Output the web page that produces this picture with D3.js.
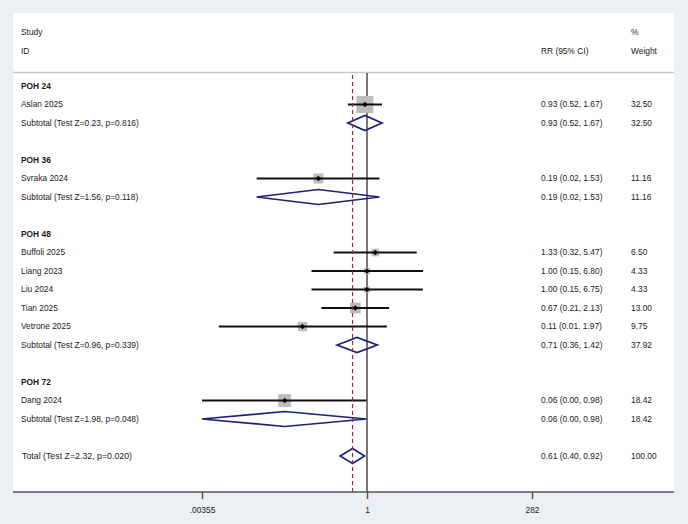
<!DOCTYPE html>
<html>
<head>
<meta charset="utf-8">
<script src="https://cdn.jsdelivr.net/npm/d3@7"></script>
<style>
html,body{margin:0;padding:0;background:#eaf0f3;}
svg{display:block;}
text{font-family:"Liberation Sans",Arial,sans-serif;font-size:8.4px;fill:#1a1a1a;}
</style>
</head>
<body>
<svg id="chart" width="688" height="524"></svg>
<script>
// ---- data ----
const groups = ["POH 24", "POH 36", "POH 48", "POH 72"];
const studies = ["Aslan 2025", "Svraka 2024", "Buffoli 2025", "Liang 2023", "Liu 2024", "Tian 2025", "Vetrone 2025", "Dang 2024"];
const studyGroup = [0, 1, 2, 2, 2, 2, 2, 3];
const studyRR = [0.93, 0.19, 1.33, 1.00, 1.00, 0.67, 0.11, 0.06];
const studyLo = [0.52, 0.023, 0.32, 0.15, 0.15, 0.21, 0.0063, 0.00355];
const studyHi = [1.67, 1.53, 5.47, 6.80, 6.75, 2.13, 1.97, 0.98];
const studyWeight = [32.50, 11.16, 6.50, 4.33, 4.33, 13.00, 9.75, 18.42];
const subRR = [0.93, 0.19, 0.71, 0.06];
const subLo = [0.52, 0.023, 0.36, 0.00355];
const subHi = [1.67, 1.53, 1.42, 0.98];
const subWeight = [32.50, 11.16, 37.92, 18.42];
const subZ = ["0.23", "1.56", "0.96", "1.98"];
const subP = ["0.816", "0.118", "0.339", "0.048"];
const totalRR = 0.61, totalLo = 0.40, totalHi = 0.92, totalWeight = 100.00;
const totalZ = "2.32", totalP = "0.020";
const tickValues = [0.00355, 1, 282];
const tickLabels = [".00355", "1", "282"];

// ---- build rows ----
const rows = [];
let r = 0;
groups.forEach((g, gi) => {
  rows.push({type: "group", label: g, i: r++});
  studies.forEach((s, si) => {
    if (studyGroup[si] === gi) rows.push({type: "study", label: s, rr: studyRR[si], lo: studyLo[si], hi: studyHi[si], w: studyWeight[si], i: r++});
  });
  rows.push({type: "sub", label: `Subtotal (Test Z=${subZ[gi]}, p=${subP[gi]})`, rr: subRR[gi], lo: subLo[gi], hi: subHi[gi], w: subWeight[gi], i: r++});
  r++;
});
rows.push({type: "total", label: `Total (Test Z=${totalZ}, p=${totalP})`, rr: totalRR, lo: totalLo, hi: totalHi, w: totalWeight, i: r});

const svg = d3.select("#chart");
const panel = {x0: 13, x1: 674, y0: 13, y1: 492};
const x = d3.scaleLog().domain([0.00355, 1 / 0.00355]).range([202, 532]);
const y = d3.scaleLinear().domain([0, 20]).range([86, 456]);
const box = d3.scaleSqrt().domain([0, 100]).range([0, 29.8]);
const colRR = 541, colW = 631, colLab = 21;

svg.append("rect").attr("x", panel.x0).attr("y", panel.y0)
  .attr("width", panel.x1 - panel.x0).attr("height", panel.y1 - panel.y0).attr("fill", "#fff");

// header
const hdr = svg.append("g");
hdr.append("text").attr("x", colLab).attr("y", 32).attr("dy", "0.35em").text("Study");
hdr.append("text").attr("x", colLab).attr("y", 51).attr("dy", "0.35em").text("ID");
hdr.append("text").attr("x", colRR).attr("y", 51).attr("dy", "0.35em").text("RR (95% CI)");
hdr.append("text").attr("x", colW).attr("y", 32).attr("dy", "0.35em").text("%");
hdr.append("text").attr("x", colW).attr("y", 51).attr("dy", "0.35em").text("Weight");
svg.append("line").attr("x1", panel.x0).attr("x2", panel.x1).attr("y1", 72.5).attr("y2", 72.5)
  .attr("stroke", "#c8c8c8").attr("stroke-width", 1.5);

// null line
svg.append("line").attr("x1", x(1)).attr("x2", x(1)).attr("y1", 73).attr("y2", panel.y1)
  .attr("stroke", "#555").attr("stroke-width", 1.6);

const studyRows = rows.filter(d => d.type === "study");
// boxes
svg.append("g").selectAll("rect").data(studyRows).join("rect")
  .attr("x", d => x(d.rr) - box(d.w) / 2).attr("y", d => y(d.i) - box(d.w) / 2)
  .attr("width", d => box(d.w)).attr("height", d => box(d.w)).attr("fill", "#bdbdbd");
// CI lines
svg.append("g").selectAll("line").data(studyRows).join("line")
  .attr("x1", d => x(d.lo)).attr("x2", d => x(d.hi)).attr("y1", d => y(d.i)).attr("y2", d => y(d.i))
  .attr("stroke", "#111").attr("stroke-width", 1.8);
// point markers
svg.append("g").selectAll("path").data(studyRows).join("path")
  .attr("d", d => { const cx = x(d.rr), cy = y(d.i), h = 2.7; return `M${cx},${cy - h}L${cx + h},${cy}L${cx},${cy + h}L${cx - h},${cy}Z`; })
  .attr("fill", "#000");

// diamonds
const diaRows = rows.filter(d => d.type === "sub" || d.type === "total");
svg.append("g").selectAll("path").data(diaRows).join("path")
  .attr("d", d => { const cy = y(d.i), h = 7.5; return `M${x(d.lo)},${cy}L${x(d.rr)},${cy - h}L${x(d.hi)},${cy}L${x(d.rr)},${cy + h}Z`; })
  .attr("fill", "none").attr("stroke", "#1c2076").attr("stroke-width", 1.7).attr("stroke-linejoin", "miter");

// overall dashed line
svg.append("line").attr("x1", x(totalRR)).attr("x2", x(totalRR)).attr("y1", 75).attr("y2", panel.y1)
  .attr("stroke", "#a3243a").attr("stroke-width", 1.2).attr("stroke-dasharray", "4,3");

// labels
const lab = svg.append("g");
lab.selectAll("text.lab").data(rows).join("text").attr("class", "lab")
  .attr("x", d => d.type === "total" ? colLab + 1 : colLab).attr("y", d => y(d.i)).attr("dy", "0.35em")
  .attr("font-weight", d => d.type === "group" ? "bold" : null)
  .style("font-size", d => d.type === "total" ? "8.8px" : null)
  .text(d => d.label);
const valRows = rows.filter(d => d.type !== "group");
lab.selectAll("text.rr").data(valRows).join("text").attr("class", "rr")
  .attr("x", colRR).attr("y", d => y(d.i)).attr("dy", "0.35em")
  .text(d => `${d.rr.toFixed(2)} (${d.lo.toFixed(2)}, ${d.hi.toFixed(2)})`);
lab.selectAll("text.w").data(valRows).join("text").attr("class", "w")
  .attr("x", colW).attr("y", d => y(d.i)).attr("dy", "0.35em")
  .text(d => d.w.toFixed(2));

// axis
const axis = d3.axisBottom(x).tickValues(tickValues).tickSize(7).tickPadding(8)
  .tickFormat((d, i) => tickLabels[i]);
const ag = svg.append("g").attr("transform", `translate(0,${panel.y1})`).call(axis);
ag.select(".domain").attr("d", `M${panel.x0},0H${panel.x1}`).attr("stroke", "#555").attr("stroke-width", 1.5);
ag.selectAll(".tick line").attr("stroke", "#555").attr("stroke-width", 1.5);
ag.selectAll(".tick text").style("font-family", "Liberation Sans, Arial, sans-serif").style("font-size", "8.4px").attr("fill", "#1a1a1a");
</script>
</body>
</html>
